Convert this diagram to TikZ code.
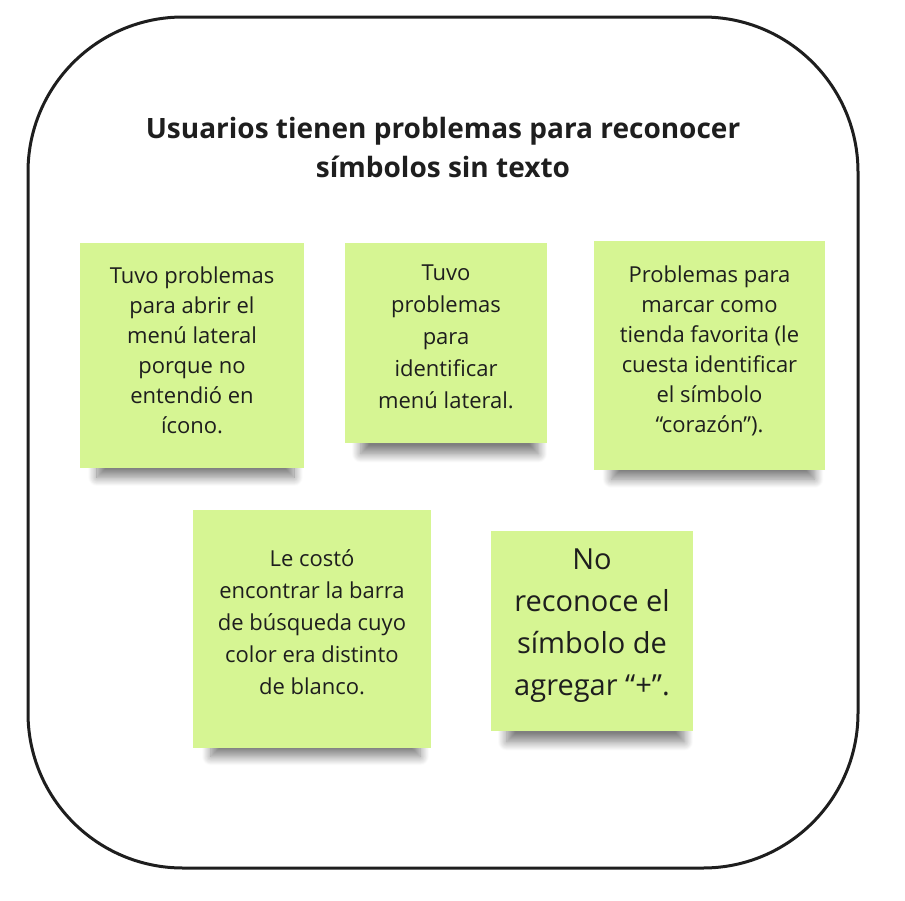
\documentclass[tikz,border=0pt]{standalone}
\usepackage{fontspec}
\setmainfont{Open Sans}
\usetikzlibrary{shadows.blur}
\definecolor{stickygreen}{RGB}{214,245,147}
\definecolor{inkgray}{RGB}{30,30,30}
\begin{document}
\begin{tikzpicture}[x=1pt, y=-1pt]
    \tikzstyle{frame}=[draw=inkgray, line width=3pt, rounded corners=155pt]
    \tikzstyle{note}=[fill=stickygreen, inner sep=0pt,
        blur shadow={shadow xshift=4pt, shadow yshift=-26pt, shadow scale=0.88,
            shadow opacity=50, shadow blur radius=10pt, shadow blur steps=12}]
    \tikzstyle{notetext}=[align=center, text=inkgray, font=\fontsize{22}{30}\selectfont]
    \tikzstyle{big}=[font=\fontsize{29}{42}\selectfont]
    \tikzstyle{title}=[align=center, text=inkgray, font=\bfseries\fontsize{28}{39}\selectfont]
    \useasboundingbox (0,0) rectangle (905,900);
    \draw[frame] (28,17) rectangle (858,868);
    \node[title] (heading) at (443,147) {Usuarios tienen problemas para reconocer\\símbolos sin texto};
    \node[note, minimum width=224pt, minimum height=225pt] (abrir) at (192,355.5) {};
    \node[notetext] (abrirtxt) at (abrir.center) [yshift=5pt]
        {Tuvo problemas\\para abrir el\\menú lateral\\porque no\\entendió en\\ícono.};
    \node[note, minimum width=202pt, minimum height=200pt] (identificar) at (446,343) {};
    \node[notetext, font=\fontsize{22}{32}\selectfont] (identificartxt) at (identificar.center) [yshift=6pt]
        {Tuvo\\problemas\\para\\identificar\\menú lateral.};
    \node[note, minimum width=231pt, minimum height=229pt] (favorita) at (709.5,355.5) {};
    \node[notetext] (favoritatxt) at (favorita.center) [yshift=5pt]
        {Problemas para\\marcar como\\tienda favorita (le\\cuesta identificar\\el símbolo\\“corazón”).};
    \node[note, minimum width=238pt, minimum height=238pt] (busqueda) at (312,629) {};
    \node[notetext, font=\fontsize{22}{32}\selectfont] (busquedatxt) at (busqueda.center) [yshift=7pt]
        {Le costó\\encontrar la barra\\de búsqueda cuyo\\color era distinto\\de blanco.};
    \node[note, minimum width=202pt, minimum height=200pt] (agregar) at (592,631) {};
    \node[notetext, big] (agregartxt) at (agregar.center) [yshift=5pt]
        {No\\reconoce el\\símbolo de\\agregar “+”.};
\end{tikzpicture}
\end{document}
